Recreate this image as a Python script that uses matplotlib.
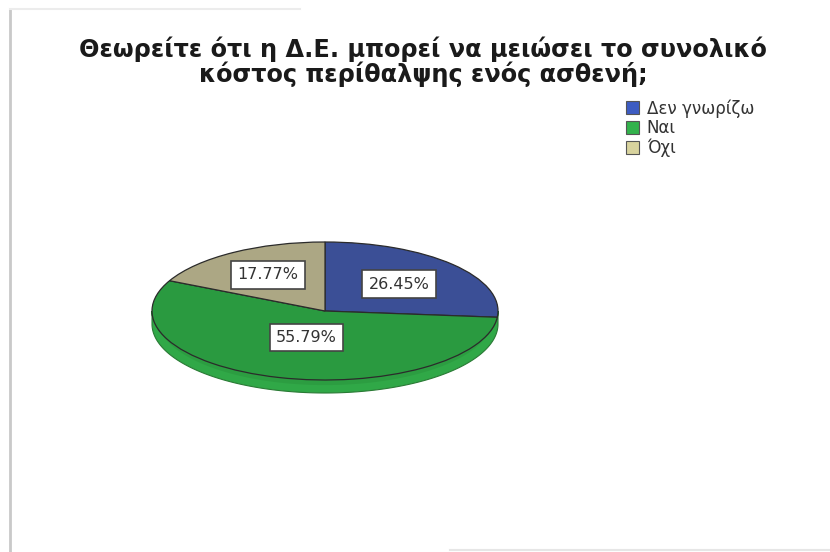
import numpy as np
import matplotlib.pyplot as plt
from matplotlib.patches import Patch

plt.rcParams['font.family'] = ['DejaVu Sans']

# survey answers (percent of respondents)
categories = ['Δεν γνωρίζω', 'Ναι', 'Όχι']
percents = [26.45, 55.79, 17.77]

face_colors = ['#3b4f96', '#2a9a40', '#aca784']
legend_colors = ['#3d5cc2', '#33b24c', '#d8d39e']
side_color = '#30a847'
title_lines = ['Θεωρείτε ότι η Δ.Ε. μπορεί να μειώσει το συνολικό',
               'κόστος περίθαλψης ενός ασθενή;']

W, H = 830, 552
fig = plt.figure(figsize=(W / 100, H / 100), dpi=100)

# page frame
frame = fig.add_axes([0, 0, 1, 1])
frame.set_xlim(0, W)
frame.set_ylim(H, 0)
frame.axis('off')
frame.plot([10, 10], [9, H], color='#c9c9c9', lw=2)
frame.plot([10, 300], [9, 9], color='#ececec', lw=1.5)
frame.plot([450, W], [550, 550], color='#e6e6e6', lw=1.5)

for i, line in enumerate(title_lines):
    frame.text(423, 57 + 25 * i, line, ha='center', va='baseline',
               fontsize=17.3, fontweight='bold', color='#1a1a1a')

# pie laid out in pixel units: center (325, 311), radii 173 x 69
cx, cy, rx, ry = 325, 311, 173, 69
xpad, ytop, ybot = 1.1, 1.2, 1.5
ax = fig.add_axes([(cx - xpad * rx) / W, (H - cy - ybot * ry) / H,
                   2 * xpad * rx / W, (ytop + ybot) * ry / H])

depth = 13 / ry
t = np.linspace(np.pi, 2 * np.pi, 200)
side_x = np.concatenate([np.cos(t), np.cos(t[::-1])])
side_y = np.concatenate([np.sin(t) - depth, np.sin(t[::-1])])
ax.fill(side_x, side_y, color=side_color, ec='#2a7a35', lw=0.8, zorder=0)
ax.fill(np.cos(t) * 0.97, np.sin(t) * 0.97 - depth * 0.55, color='#2c9d41',
        lw=0, zorder=0)

wedges, _ = ax.pie(percents, colors=face_colors, startangle=90,
                   counterclock=False,
                   wedgeprops=dict(edgecolor='#2b2b2b', linewidth=0.9))
ax.set_aspect('auto')
ax.set_xlim(-xpad, xpad)
ax.set_ylim(-ybot, ytop)
ax.axis('off')

# value labels along each slice's middle angle
label_r = [0.58, 0.40, 0.62]
start = 0.0
for v, r in zip(percents, label_r):
    mid = np.deg2rad((start + v / 2) / sum(percents) * 360)
    start += v
    ax.text(r * np.sin(mid), r * np.cos(mid), f'{v:.2f}%', ha='center',
            va='center', fontsize=11.5, color='#333333', zorder=5,
            bbox=dict(boxstyle='square,pad=0.4', fc='white', ec='#444444', lw=1.2))

handles = [Patch(fc=c, ec='#555555', lw=0.8) for c in legend_colors]
fig.legend(handles, categories, loc='upper left',
           bbox_to_anchor=(626 / W, 1 - 99 / H), frameon=False, fontsize=12,
           handlelength=0.8, handleheight=0.85, handletextpad=0.45,
           labelspacing=0.1, borderpad=0, borderaxespad=0,
           labelcolor='#333333')

fig.savefig('out.png', dpi=100)
